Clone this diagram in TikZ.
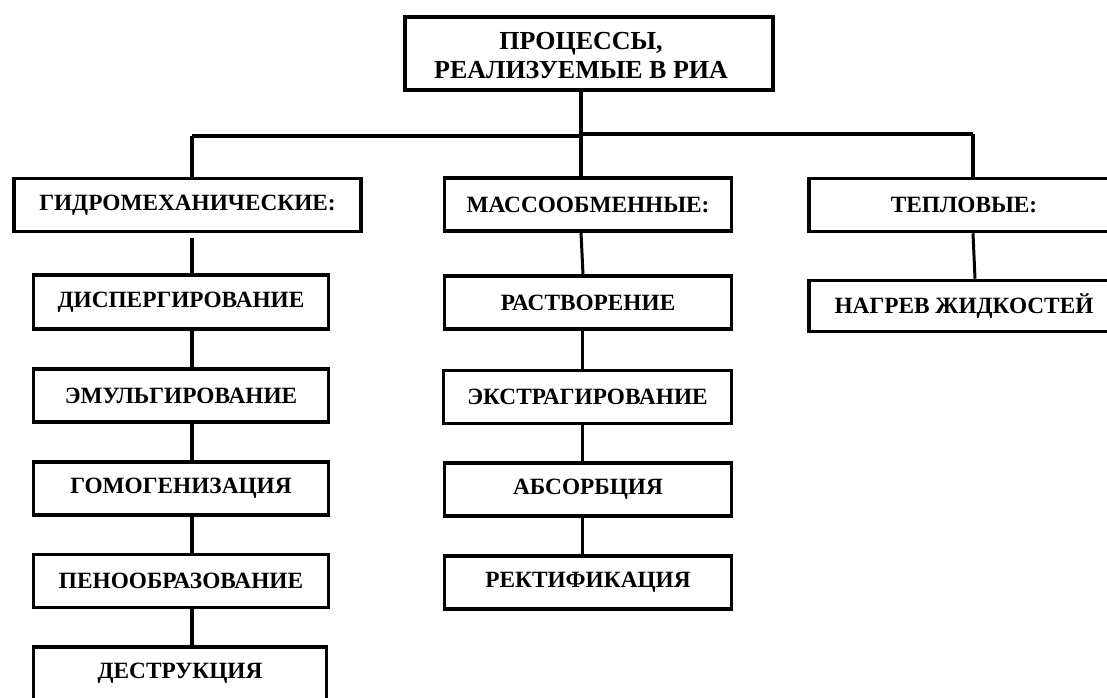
\documentclass[tikz,border=0pt]{standalone}
\usepackage{fontspec}
\setmainfont{Liberation Serif}
\usetikzlibrary{calc}
\begin{document}
\begin{tikzpicture}[x=1pt,y=-1pt,
  procbox/.style={draw=black, line width=3.5pt, fill=white, inner sep=0pt,
    font=\fontsize{23.3}{27}\selectfont\bfseries, minimum height=53pt},
  link/.style={line width=3.8pt, black}]
\useasboundingbox (0,0) rectangle (1107,697);
\clip (0,0) rectangle (1107,697);
% top
\node[procbox, minimum width=368pt, minimum height=73pt] (top) at (589,53.5) {};
\node[font=\fontsize{26}{29}\selectfont\bfseries, align=center, inner sep=0pt] (toptext) at (581,56) {ПРОЦЕССЫ,\\РЕАЛИЗУЕМЫЕ В РИА};
% level 1
\node[procbox, minimum width=347pt] (g) at (187.5,205) {ГИДРОМЕХАНИЧЕСКИЕ:};
\node[procbox, minimum width=287pt] (m) at (588,204.5) {МАССООБМЕННЫЕ:};
\node[procbox, minimum width=310pt] (t) at (964,205) {ТЕПЛОВЫЕ:};
% left column
\node[procbox, minimum width=295pt, minimum height=54pt] (g1) at (181,302) {ДИСПЕРГИРОВАНИЕ};
\node[procbox, minimum width=295pt] (g2) at (181,395.5) {ЭМУЛЬГИРОВАНИЕ};
\node[procbox, minimum width=295pt] (g3) at (181,488.5) {ГОМОГЕНИЗАЦИЯ};
\node[procbox, minimum width=295pt] (g4) at (181,581) {ПЕНООБРАЗОВАНИЕ};
\node[procbox, minimum width=293pt] (g5) at (180,673.5) {ДЕСТРУКЦИЯ};
% middle column
\node[procbox, minimum width=287pt] (m1) at (588,302.5) {РАСТВОРЕНИЕ};
\node[procbox, minimum width=288pt] (m2) at (587.5,397) {ЭКСТРАГИРОВАНИЕ};
\node[procbox, minimum width=287pt] (m3) at (588,489.5) {АБСОРБЦИЯ};
\node[procbox, minimum width=287pt] (m4) at (588,582.5) {РЕКТИФИКАЦИЯ};
% right column
\node[procbox, minimum width=310pt, minimum height=51pt] (t1) at (964,306) {НАГРЕВ ЖИДКОСТЕЙ};
% bus
\coordinate (busL) at (192,136);
\coordinate (busM) at (581,136);
\coordinate (busM2) at (581,134);
\coordinate (busR) at (973,134);
\draw[link] (top.south -| busM) -- (m.north -| busM);
\draw[link] (busL) -- (busM);
\draw[link] (busM2) -- (busR);
\draw[link] (busL) -- (g.north -| busL);
\draw[link] (busR) -- (t.north -| busR);
% left chain
\draw[link] ($(g.south -| busL)+(0,5)$) -- (g1.north -| busL);
\draw[link] (g1.south -| busL) -- (g2.north -| busL);
\draw[link] (g2.south -| busL) -- (g3.north -| busL);
\draw[link] (g3.south -| busL) -- (g4.north -| busL);
\draw[link] (g4.south -| busL) -- (g5.north -| busL);
% middle chain
\draw[line width=3pt] (m.south -| busM) -- ($(m1.north -| busM)+(2,0)$);
\draw[line width=3pt] ($(m1.south -| busM)+(1,0)$) -- ($(m2.north -| busM)+(1,0)$);
\draw[line width=3pt] ($(m2.south -| busM)+(1,0)$) -- ($(m3.north -| busM)+(1,0)$);
\draw[line width=3pt] ($(m3.south -| busM)+(1,0)$) -- ($(m4.north -| busM)+(1,0)$);
% right chain
\draw[line width=3pt] (t.south -| busR) -- ($(t1.north -| busR)+(2,0)$);
\end{tikzpicture}
\end{document}
